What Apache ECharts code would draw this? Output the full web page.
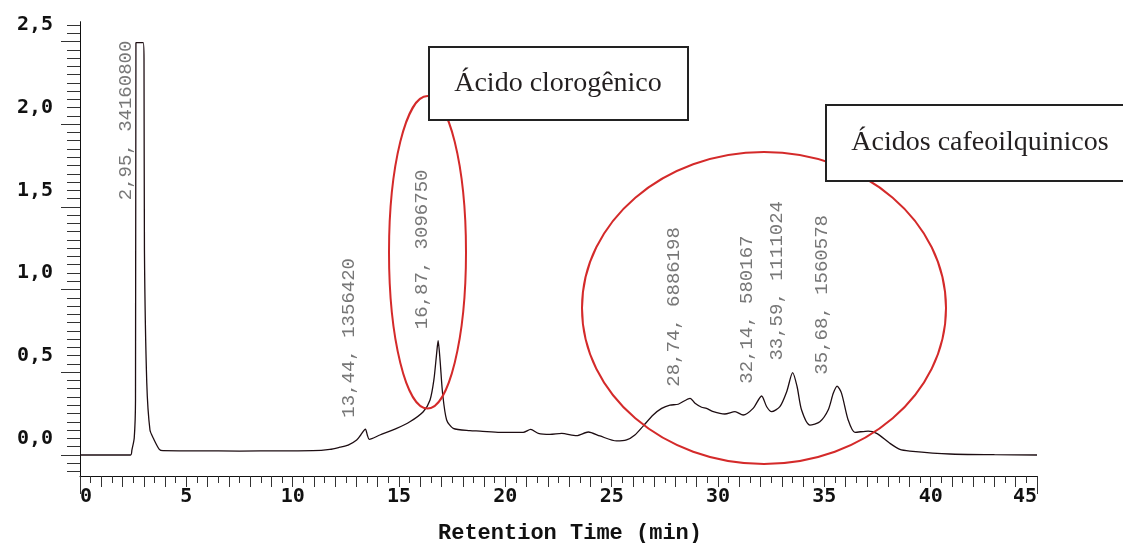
<!DOCTYPE html>
<html>
<head>
<meta charset="utf-8">
<script src="https://cdn.jsdelivr.net/npm/echarts@6/dist/echarts.min.js"></script>
<style>
  html, body { margin: 0; padding: 0; background: #ffffff; }
  #chart { width: 1123px; height: 543px; }
</style>
</head>
<body>
<div id="chart"></div>
<script>
// Retention time (min) of the chromatogram trace
const traceTime = [
  0, 2.38, 2.44, 2.55, 2.61, 2.63, 2.97, 3.01, 3.03, 3.14, 3.29, 3.45, 3.73, 3.90,
  5.5, 7.5, 9.5, 10.95, 11.75, 12.22, 12.61, 13.01, 13.2, 13.42, 13.51, 13.60,
  14.10, 14.89, 15.51, 16.14, 16.46, 16.64, 16.77, 16.84, 16.93, 17.05, 17.24, 17.55,
  18.34, 18.81, 19.75, 20.84, 21.19, 21.55, 22.10, 22.65, 23.35, 23.90, 24.45,
  25.23, 25.70, 26.09, 26.48, 26.95, 27.35, 27.74, 28.13, 28.69, 28.92, 29.23,
  29.46, 29.78, 30.32, 30.80, 31.18, 31.65, 32.05, 32.29, 32.52, 32.91, 33.23,
  33.51, 33.72, 33.93, 34.32, 34.79, 35.18, 35.42, 35.60, 35.81, 36.12, 36.44,
  37.06, 37.46, 38.08, 38.55, 39.02, 40.90, 43.0, 45
];
// Detector signal at each time
const traceSignal = [
  -0.101, -0.101, -0.071, 0.002, 0.232, 2.393, 2.393, 2.289, 1.139, 0.335, 0.05, 0.0, -0.067, -0.075,
  -0.076, -0.077, -0.076, -0.075, -0.067, -0.054, -0.041, -0.010, 0.02, 0.056, 0.02, -0.006,
  0.02, 0.06, 0.10, 0.161, 0.232, 0.353, 0.514, 0.590, 0.474, 0.272, 0.111, 0.06,
  0.046, 0.044, 0.036, 0.036, 0.054, 0.03, 0.024, 0.03, 0.016, 0.038, 0.014,
  -0.016, -0.01, 0.02, 0.074, 0.141, 0.181, 0.201, 0.206, 0.242, 0.212, 0.188,
  0.181, 0.161, 0.147, 0.161, 0.141, 0.181, 0.256, 0.191, 0.161, 0.191, 0.282,
  0.397, 0.312, 0.171, 0.08, 0.10, 0.171, 0.272, 0.316, 0.272, 0.111, 0.036,
  0.044, 0.03, -0.03, -0.067, -0.077, -0.095, -0.099, -0.101
];
// Peak annotations: retention time, area, signal level where the label starts
const peakTime = [2.95, 13.44, 16.87, 28.74, 32.14, 33.59, 35.68];
const peakArea = [34160800, 1356420, 3096750, 6886198, 580167, 1111024, 1560578];
const peakLabelLevel = [1.44, 0.125, 0.66, 0.312, 0.33, 0.47, 0.385];

// Axis ticks and labels
const xTickLabels = [0, 5, 10, 15, 20, 25, 30, 35, 40, 45];
const yTickLabels = [0, 0.5, 1.0, 1.5, 2.0, 2.5];
const xMinorTicks = []; for (let i = 0; i <= 90; i++) xMinorTicks.push(i * 0.5);
const xMidTicks = []; for (let i = 0; i <= 45; i++) xMidTicks.push(i);
const xEndTicks = [0, 45];
const yMinorTicks = []; for (let i = -4; i <= 50; i++) yMinorTicks.push(+(i * 0.05).toFixed(2));
const yLongTicks = [-0.1, 0.4, 0.9, 1.4, 1.9, 2.4];

const annotationTexts = ['Ácido clorogênico', 'Ácidos cafeoilquinicos'];

const fmtComma = (v, d) => v.toFixed(d).replace('.', ',');

const chart = echarts.init(document.getElementById('chart'), null, { renderer: 'canvas' });

const X_MIN = 0, X_MAX = 45, Y_MIN = -0.228, Y_MAX = 2.52;

function tickOnlyAxis(type, values, len) {
  return {
    type: 'value', min: type === 'x' ? X_MIN : Y_MIN, max: type === 'x' ? X_MAX : Y_MAX,
    position: type === 'x' ? 'bottom' : 'left',
    axisLine: { show: false, onZero: false },
    axisLabel: { show: false },
    splitLine: { show: false },
    axisTick: { show: true, customValues: values, length: len, inside: false,
      lineStyle: { color: '#333', width: 1 } }
  };
}

const lineData = traceTime.map((t, i) => [t, traceSignal[i]]);
const labelData = peakTime.map((t, i) => ({
  value: [t, peakLabelLevel[i]],
  name: fmtComma(t, 2) + ', ' + peakArea[i]
}));

chart.setOption({
  backgroundColor: '#ffffff',
  animation: false,
  grid: { left: 80, right: 86, top: 21.7, bottom: 67, containLabel: false, outerBoundsMode: 'none' },
  xAxis: [
    {
      type: 'value', min: X_MIN, max: X_MAX, position: 'bottom',
      name: 'Retention Time (min)', nameLocation: 'middle', nameGap: 46,
      nameTextStyle: { fontFamily: 'Liberation Mono', fontWeight: 'bold', fontSize: 22,
        color: '#111', padding: [0, 0, 0, 23] },
      axisLine: { show: true, onZero: false, lineStyle: { color: '#111', width: 1 } },
      axisTick: { show: true, customValues: xMinorTicks, length: 7, lineStyle: { color: '#333' } },
      axisLabel: { show: true, customValues: xTickLabels, margin: 11,
        fontFamily: 'DejaVu Sans Mono', fontWeight: 'bold', fontSize: 20, color: '#111',
        alignMinLabel: 'left', alignMaxLabel: 'right', formatter: v => String(v) },
      splitLine: { show: false }
    },
    tickOnlyAxis('x', xMidTicks, 11),
    tickOnlyAxis('x', xEndTicks, 18)
  ],
  yAxis: [
    {
      type: 'value', min: Y_MIN, max: Y_MAX, position: 'left',
      axisLine: { show: true, onZero: false, lineStyle: { color: '#111', width: 1 } },
      axisTick: { show: true, customValues: yMinorTicks, length: 13, lineStyle: { color: '#333' } },
      axisLabel: { show: true, customValues: yTickLabels, margin: 27,
        fontFamily: 'DejaVu Sans Mono', fontWeight: 'bold', fontSize: 20, color: '#111',
        formatter: v => fmtComma(v, 1) },
      splitLine: { show: false }
    },
    tickOnlyAxis('y', yLongTicks, 19)
  ],
  series: [
    {
      type: 'line', xAxisIndex: 0, yAxisIndex: 0, data: lineData,
      showSymbol: false, symbol: 'none', smooth: 0.25,
      lineStyle: { color: '#1d0d12', width: 1.3 }, z: 3
    },
    {
      type: 'scatter', xAxisIndex: 0, yAxisIndex: 0, data: labelData,
      symbolSize: 2, itemStyle: { color: 'rgba(0,0,0,0)' }, z: 4,
      label: {
        show: true, position: 'inside', rotate: 90, align: 'left', verticalAlign: 'middle',
        offset: [0, -17], formatter: p => p.name,
        fontFamily: 'Liberation Mono', fontSize: 19, color: '#555'
      }
    }
  ],
  graphic: [
    { type: 'ellipse', shape: { cx: 427.5, cy: 252.3, rx: 38.5, ry: 156.2 },
      style: { fill: null, stroke: '#d42a2a', lineWidth: 2 }, z: 9 },
    { type: 'ellipse', shape: { cx: 764, cy: 308, rx: 182, ry: 156 },
      style: { fill: null, stroke: '#d42a2a', lineWidth: 2 }, z: 9 },
    { type: 'rect', shape: { x: 429, y: 47, width: 259, height: 73 },
      style: { fill: '#fff', stroke: '#222', lineWidth: 2 }, z: 10 },
    { type: 'text', x: 558, y: 84, style: { text: annotationTexts[0], fill: '#231f20',
      font: '28px "Liberation Serif"', align: 'center', verticalAlign: 'middle' }, z: 11 },
    { type: 'rect', shape: { x: 826, y: 105, width: 300, height: 76 },
      style: { fill: '#fff', stroke: '#222', lineWidth: 2 }, z: 10 },
    { type: 'text', x: 980, y: 143, style: { text: annotationTexts[1], fill: '#231f20',
      font: '28px "Liberation Serif"', align: 'center', verticalAlign: 'middle' }, z: 11 }
  ]
});
</script>
</body>
</html>
